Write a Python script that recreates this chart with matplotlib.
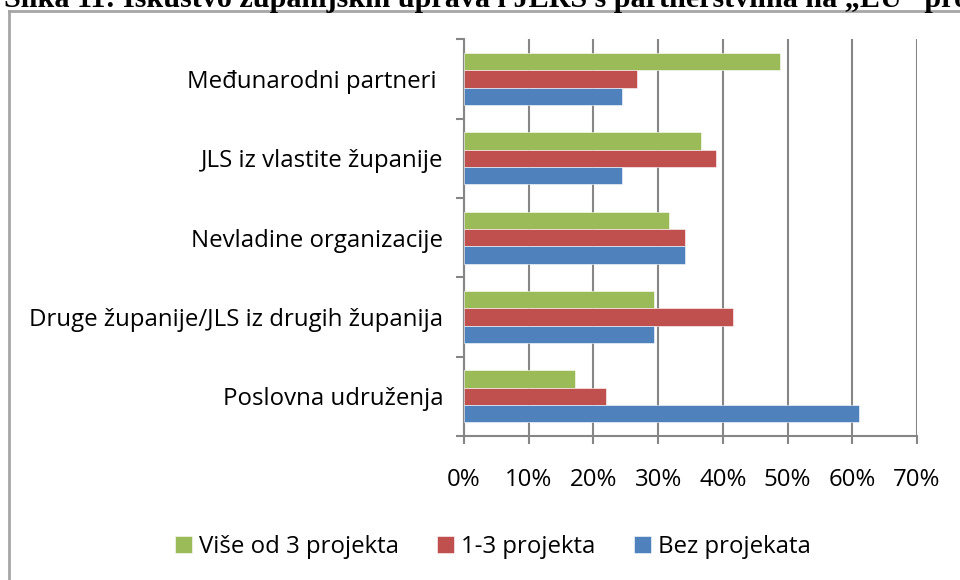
import matplotlib
matplotlib.use("Agg")
import matplotlib.pyplot as plt
from matplotlib.lines import Line2D
import numpy as np

categories = ["Međunarodni partneri ", "JLS iz vlastite županije", "Nevladine organizacije",
              "Druge županije/JLS iz drugih županija", "Poslovna udruženja"]
series_names = ["Više od 3 projekta", "1-3 projekta", "Bez projekata"]
vise_od_3 = [48.8, 36.6, 31.7, 29.3, 17.1]
od_1_do_3 = [26.8, 39.0, 34.1, 41.5, 22.0]
bez_projekata = [24.4, 24.4, 34.1, 29.3, 61.0]
colors = ["#9BBB59", "#C0504D", "#4F81BD"]
xticks = [0, 10, 20, 30, 40, 50, 60, 70]
title = "Slika 11: Iskustvo županijskih uprava i JLRS s partnerstvima na „EU“ projektima"

plt.rcParams['font.family'] = ['Open Sans', 'DejaVu Sans']
FS = 17.3

fig = plt.figure(figsize=(9.6, 5.8), dpi=100)
ax = fig.add_axes([464/960, 1-436/580, (917-464)/960, (436-39.3)/580])

n = len(categories)
pos = np.arange(n)
h = 0.219
for i, (vals, col, name) in enumerate(zip([vise_od_3, od_1_do_3, bez_projekata], colors, series_names)):
    ax.barh(pos + (i-1)*h, vals, height=h, color=col, edgecolor='white', linewidth=0.4,
            label=name, zorder=3)

ax.set_ylim(n-0.5, -0.5)
ax.set_xlim(0, 70)
ax.set_xticks(xticks)
ax.set_xticklabels([f"{t}%" for t in xticks], fontsize=FS)
ax.set_yticks(pos)
ax.set_yticklabels(categories, fontsize=FS)
ax.set_yticks(np.arange(n+1)-0.5, minor=True)
ax.tick_params(axis='y', which='major', length=0, pad=15)
ax.tick_params(axis='y', which='minor', length=6, width=1.5, color='#868686')
ax.tick_params(axis='x', length=6, width=1.5, color='#868686', pad=17)
ax.grid(axis='x', color='#868686', linewidth=1.5, zorder=0)
for s in ['top', 'right']:
    ax.spines[s].set_visible(False)
for s in ['left', 'bottom']:
    ax.spines[s].set_color('#868686')
    ax.spines[s].set_linewidth(1.5)

handles, labels = ax.get_legend_handles_labels()
fig.legend(handles, labels, loc='center', bbox_to_anchor=(493/960, 1-547/580), ncol=3,
           frameon=False, fontsize=FS, handlelength=0.7, handleheight=0.7,
           handletextpad=0.3, columnspacing=1.6)

# chart area border (partially visible)
fig.add_artist(Line2D([9/960, 9/960], [0, 1-11/580], color='#a6a6a6', linewidth=2,
                      transform=fig.transFigure))
fig.add_artist(Line2D([9/960, 1], [1-11/580, 1-11/580], color='#a6a6a6', linewidth=2,
                      transform=fig.transFigure))
# cropped title above
fig.text(4/960, 1-7/580, title, fontsize=21.7, fontweight='bold',
         family='Liberation Serif', va='baseline', ha='left')

fig.savefig("out.png", dpi=100)
